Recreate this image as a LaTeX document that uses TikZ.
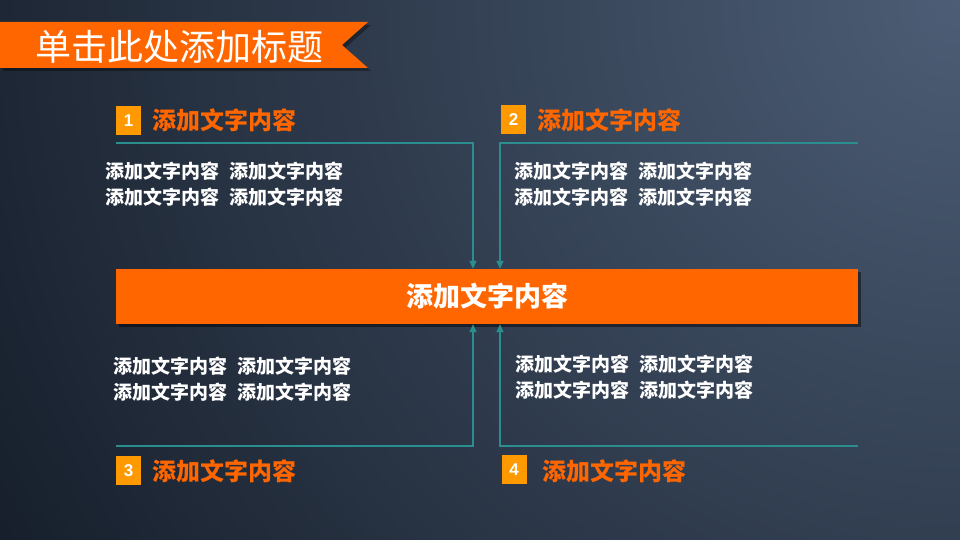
\documentclass[tikz,border=0pt]{standalone}
\usepackage{fontspec}
\setmainfont{Liberation Sans}
\newfontfamily\cjk{Noto Sans CJK SC}
\usetikzlibrary{arrows.meta,shadows}
\definecolor{bgdark}{HTML}{141C28}
\definecolor{bglight}{HTML}{4C5D75}
\definecolor{orangeA}{HTML}{FF6600}
\definecolor{orangeB}{HTML}{FF9900}
\definecolor{teal}{HTML}{2A8E8E}
\tikzset{
  link/.style={draw=teal, line width=1.7pt, -{Triangle[length=8pt,width=7pt]}},
  numbox/.style={fill=orangeB, minimum width=25pt, minimum height=29pt, inner sep=0pt,
     text=white, font=\bfseries\fontsize{17}{17}\selectfont},
  heading/.style={anchor=west, inner sep=0pt, text=orangeA, font=\cjk\bfseries\fontsize{24}{24}\selectfont},
  body/.style={anchor=west, inner sep=0pt, text=white, align=left,
     font=\cjk\bfseries\fontsize{19}{26}\selectfont},
  bar/.style={fill=orangeA, minimum width=742pt, minimum height=55pt, inner sep=0pt,
     text=white, font=\cjk\bfseries\fontsize{27}{27}\selectfont,
     drop shadow={shadow xshift=3pt, shadow yshift=-3pt, opacity=0.45, fill=black}}
}
\newcommand{\gp}{\hspace{0.55em}}
\begin{document}
\begin{tikzpicture}[x=1pt,y=-1pt]
\useasboundingbox (0,0) rectangle (960,540);
\begin{scope}
\clip (0,0) rectangle (960,540);
\shade[inner color=bglight, outer color=bgdark] (960,0) circle (1150);
\end{scope}
% title banner
\fill[black, opacity=0.35] (3,25) -- (371,25) -- (345,48) -- (371,71) -- (3,71) -- cycle;
\fill[orangeA] (0,22) -- (368,22) -- (342,45) -- (368,68) -- (0,68) -- cycle;
\node[inner sep=0pt, text=white, font=\cjk\fontsize{36}{36}\selectfont] (title) at (179,47) {单击此处添加标题};
% central bar
\node[bar] (bar) at (487,296.5) {添加文字内容};
% line ends
\coordinate (c1) at (116,143);
\coordinate (c2) at (858,143);
\coordinate (c3) at (116,446);
\coordinate (c4) at (858,446);
\draw[link] (c1) -| ([xshift=-14pt]bar.north);
\draw[link] (c2) -| ([xshift=13pt]bar.north);
\draw[link] (c3) -| ([xshift=-14pt]bar.south);
\draw[link] (c4) -| ([xshift=13pt]bar.south);
% number boxes and headings
\node[numbox] (n1) at (128.5,121) {1};
\node[numbox] (n2) at (513.5,120) {2};
\node[numbox] (n3) at (128.5,470.5) {3};
\node[numbox] (n4) at (514,469.5) {4};
\node[heading] (h1) at (152,120) {添加文字内容};
\node[heading] (h2) at (537,120) {添加文字内容};
\node[heading] (h3) at (152,471) {添加文字内容};
\node[heading] (h4) at (542,471) {添加文字内容};
% body texts
\node[body] (b1) at (105,184) {添加文字内容\gp 添加文字内容\\添加文字内容\gp 添加文字内容};
\node[body] (b2) at (514,184) {添加文字内容\gp 添加文字内容\\添加文字内容\gp 添加文字内容};
\node[body] (b3) at (113,379) {添加文字内容\gp 添加文字内容\\添加文字内容\gp 添加文字内容};
\node[body] (b4) at (515,377) {添加文字内容\gp 添加文字内容\\添加文字内容\gp 添加文字内容};
\end{tikzpicture}
\end{document}
